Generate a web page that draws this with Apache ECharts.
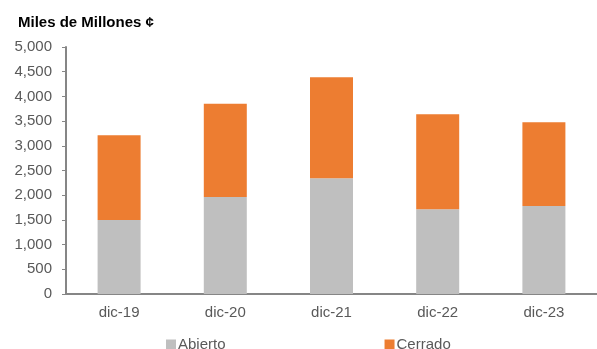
<!DOCTYPE html>
<html>
<head>
<meta charset="utf-8">
<script src="https://cdn.jsdelivr.net/npm/echarts@6/dist/echarts.min.js"></script>
<style>
  html, body { margin: 0; padding: 0; background: #fff; }
  #myChart { width: 597px; height: 349px; }
</style>
</head>
<body>
<div id="myChart"></div>
<script>
// datos
const categories = ['dic-19', 'dic-20', 'dic-21', 'dic-22', 'dic-23']
const abierto = [1498, 1963, 2342, 1714, 1781]
const cerrado = [1715, 1889, 2044, 1923, 1695]

const myChart = echarts.init(document.getElementById('myChart'))
const font = '"Liberation Sans", Arial, sans-serif'

myChart.setOption({
  animation: false,
  textStyle: { fontFamily: font },
  title: {
    text: 'Miles de Millones ¢',
    left: 18,
    top: 15,
    padding: 0,
    textStyle: {
      fontFamily: font,
      fontWeight: 'bold',
      fontSize: 15,
      color: '#000'
    }
  },
  legend: {
    left: 166,
    top: 337,
    padding: 0,
    icon: 'rect',
    itemWidth: 10,
    itemHeight: 10,
    itemGap: 159,
    textStyle: { fontFamily: font, fontSize: 15, color: '#595959', padding: [0, 0, 0, -3] },
    data: ['Abierto', 'Cerrado']
  },
  grid: {
    left: 66,
    top: 47,
    width: 537,
    height: 247
  },
  xAxis: {
    type: 'category',
    data: categories,
    axisLine: { lineStyle: { color: '#868686', width: 2 } },
    axisTick: { alignWithLabel: true, length: 4, lineStyle: { color: '#868686' } },
    axisLabel: { fontSize: 15, color: '#595959', margin: 11 }
  },
  yAxis: {
    type: 'value',
    min: 0,
    max: 5000,
    interval: 500,
    axisLine: { show: true, lineStyle: { color: '#868686', width: 2 } },
    axisTick: { show: true, length: 4, lineStyle: { color: '#868686' } },
    splitLine: { show: false },
    axisLabel: {
      fontSize: 15,
      color: '#595959',
      margin: 14,
      formatter: v => v.toLocaleString('en-US')
    }
  },
  series: [{
    name: 'Abierto',
    type: 'bar',
    stack: 'total',
    barWidth: 43,
    itemStyle: { color: '#bfbfbf' },
    data: abierto
  }, {
    name: 'Cerrado',
    type: 'bar',
    stack: 'total',
    barWidth: 43,
    itemStyle: { color: '#ed7d31' },
    data: cerrado
  }]
})
</script>
</body>
</html>
